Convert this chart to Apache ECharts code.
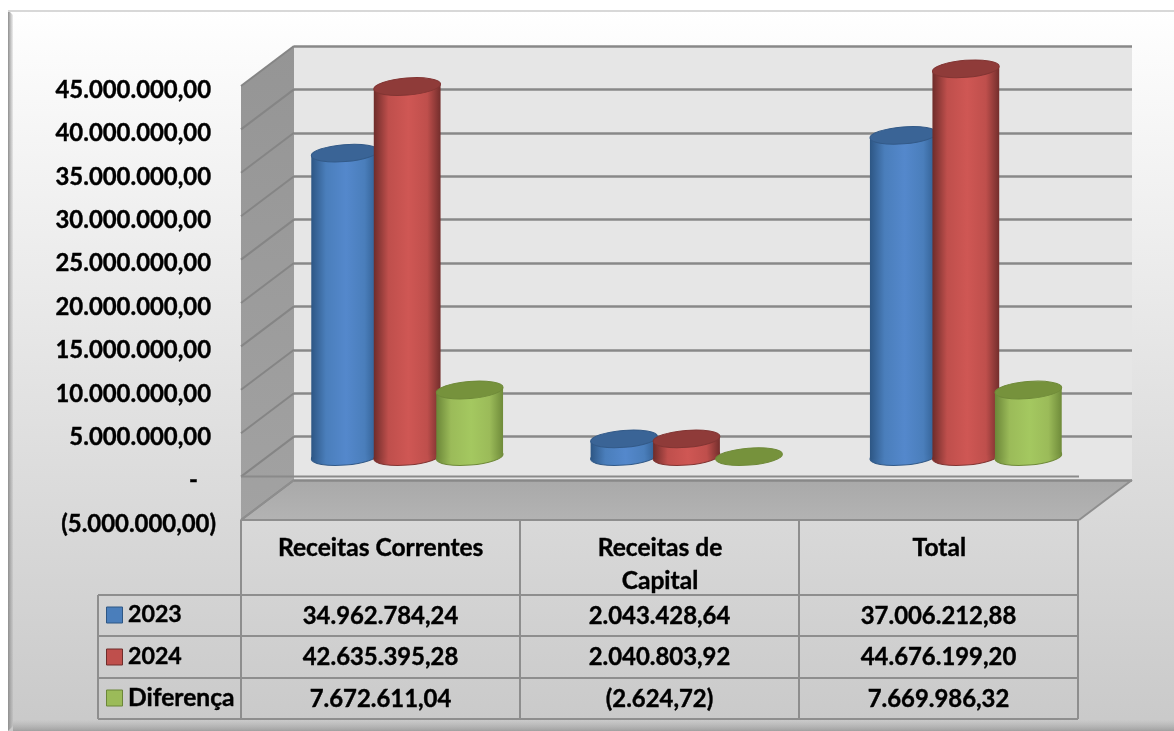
<html lang="pt">

<head>
	<meta charset="utf-8">
	<title>Receitas</title>
	<script src="https://cdn.jsdelivr.net/npm/echarts@6/dist/echarts.min.js"></script>
	<style>
		html, body { margin: 0; padding: 0; background: #fff; }
		#chart { width: 1174px; height: 731px; }
	</style>
</head>

<body>
	<div id="chart"></div>
	<script>
		// dados
		var categories = ['Receitas Correntes', 'Receitas de\nCapital', 'Total'];
		var seriesNames = ['2023', '2024', 'Diferença'];
		var values2023 = [34962784.24, 2043428.64, 37006212.88];
		var values2024 = [42635395.28, 2040803.92, 44676199.20];
		var valuesDiff = [7672611.04, -2624.72, 7669986.32];
		var yTicks = [-5000000, 0, 5000000, 10000000, 15000000, 20000000, 25000000, 30000000, 35000000, 40000000, 45000000];

		var FONT = 'Lato';
		var NUM_SIZE = 23.9, LABEL_SIZE = 24.6, THICK = 0.4;
		var depthX = 53, depthY = 40;   // deslocamento frente/fundo do 3D
		var backLeft = 294, backTop = 46, plotW = 838, plotH = 434;
		var barStep = 62.5, radX = 33.5, radY = 8.5, tilt = 0.08;

		var palette = [
			{ edgeL: '#2d5684', mid: '#4a7ebb', light: '#5488cc', edgeR: '#2f5b8d', top: '#3a6496', rim: '#335a88' },
			{ edgeL: '#6e2c2a', mid: '#bf4f4c', light: '#cf5754', edgeR: '#732e2c', top: '#8f3b39', rim: '#823533' },
			{ edgeL: '#6b8638', mid: '#9bbb59', light: '#a4c860', edgeR: '#6f8b3a', top: '#76923c', rim: '#6f8a39' }
		];

		function fmtBR(v) {
			var s = Math.abs(v).toFixed(2).split('.');
			var t = s[0].replace(/\B(?=(\d{3})+$)/g, '.') + ',' + s[1];
			return v < 0 ? '(' + t + ')' : t;
		}

		function hGrad(stops) {
			return new echarts.graphic.LinearGradient(0, 0, 1, 0, stops);
		}
		function vGrad(stops) {
			return new echarts.graphic.LinearGradient(0, 0, 0, 1, stops);
		}

		// cilindro desenhado no meio da profundidade
		function cylinder(serieIdx) {
			return function (params, api) {
				var c = palette[serieIdx];
				var topPt = api.coord([api.value(0), api.value(1)]);
				var basePt = api.coord([api.value(0), 0]);
				var cx = topPt[0] - depthX / 2 + (serieIdx - 1) * barStep;
				var yTop = topPt[1] + depthY / 2;
				var yBase = basePt[1] + depthY / 2;
				var dx = radX * Math.cos(tilt), dy = radX * Math.sin(tilt);
				var fill = hGrad([
					{ offset: 0, color: c.edgeL }, { offset: 0.22, color: c.mid },
					{ offset: 0.52, color: c.light }, { offset: 0.8, color: c.mid },
					{ offset: 1, color: c.edgeR }
				]);
				var kids = [];
				if (Math.abs(yBase - yTop) > 1.5) {
					kids.push({
						type: 'ellipse', x: cx, y: yBase, rotation: tilt,
						shape: { cx: 0, cy: 0, rx: radX, ry: radY },
						style: { fill: fill, stroke: c.rim, lineWidth: 1 }
					});
					kids.push({
						type: 'polygon',
						shape: { points: [[cx - dx, yTop + dy], [cx + dx, yTop - dy], [cx + dx, yBase - dy], [cx - dx, yBase + dy]] },
						style: { fill: fill }
					});
				}
				kids.push({
					type: 'ellipse', x: cx, y: yTop, rotation: tilt,
					shape: { cx: 0, cy: 0, rx: radX, ry: radY },
					style: { fill: c.top, stroke: c.rim, lineWidth: 1 }
				});
				return { type: 'group', children: kids };
			};
		}

		// linhas da parede lateral e linha do zero na frente
		function sideLines(params, api) {
			var v = api.value(0);
			var p = api.coord([0, v]);
			var left = params.coordSys.x;
			var kids = [{
				type: 'line',
				shape: { x1: left - depthX, y1: p[1] + depthY, x2: left, y2: p[1] },
				style: { stroke: '#858585', lineWidth: 2 }
			}];
			if (v === 0) {
				kids.push({
					type: 'line',
					shape: { x1: left - depthX, y1: p[1] + depthY, x2: left - depthX + plotW, y2: p[1] + depthY },
					style: { stroke: '#8a8a8a', lineWidth: 2 }
				});
			}
			return { type: 'group', children: kids };
		}

		// fundo, paredes e tabela
		var frontL = backLeft - depthX, frontB = backTop + plotH + depthY;
		var tableCols = [frontL, frontL + 279, frontL + 558, frontL + 837];
		var tableRows = [595, 636, 678, 719];
		var legendLeft = 98;
		var lineColor = '#8e8e8e';

		function tline(x1, y1, x2, y2) {
			return { type: 'line', z: 5, shape: { x1: x1, y1: y1, x2: x2, y2: y2 }, style: { stroke: lineColor, lineWidth: 2 } };
		}
		function ttext(txt, x, y, align, size) {
			return {
				type: 'text', z: 6, x: x, y: y,
				style: {
					text: txt, fill: '#000', font: 'bold ' + (size || NUM_SIZE) + 'px ' + FONT, align: align || 'center', verticalAlign: 'middle',
					stroke: '#000', lineWidth: THICK
				}
			};
		}

		var graphics = [
			{
				type: 'rect', z: -20, shape: { x: 8, y: 10, width: 1166, height: 721 },
				style: { fill: vGrad([{ offset: 0, color: '#ffffff' }, { offset: 0.05, color: '#fcfcfc' }, { offset: 1, color: '#c9c9c9' }]) }
			},
			{
				type: 'polygon', z: -19, shape: { points: [[8, 10], [13, 15], [13, 726], [8, 731]] },
				style: { fill: hGrad([{ offset: 0, color: '#8f8f8f' }, { offset: 1, color: 'rgba(150,150,150,0.15)' }]) }
			},
			{
				type: 'rect', z: -19, shape: { x: 13, y: 720, width: 1161, height: 11 },
				style: { fill: vGrad([{ offset: 0, color: 'rgba(150,150,150,0)' }, { offset: 1, color: 'rgba(120,120,120,0.5)' }]) }
			},
			{ type: 'rect', z: -19, shape: { x: 8, y: 10, width: 1166, height: 2 }, style: { fill: '#d8d8d8' } },
			// parede lateral
			{
				type: 'polygon', z: -10,
				shape: { points: [[frontL, backTop + depthY], [backLeft, backTop], [backLeft, backTop + plotH], [frontL, frontB]] },
				style: { fill: vGrad([{ offset: 0, color: '#959595' }, { offset: 1, color: '#a2a2a2' }]) }
			},
			// piso
			{
				type: 'polygon', z: -10,
				shape: { points: [[frontL, frontB], [backLeft, backTop + plotH], [backLeft + plotW, backTop + plotH], [frontL + plotW, frontB]] },
				style: { fill: vGrad([{ offset: 0, color: '#a9a9a9' }, { offset: 1, color: '#b3b3b3' }]) }
			},
			tline(frontL, frontB, frontL + plotW, frontB),
			tline(frontL, frontB, backLeft, backTop + plotH),
			tline(backLeft + plotW, backTop + plotH, frontL + plotW, frontB)
		];

		tableCols.forEach(function (x) { graphics.push(tline(x, frontB, x, tableRows[3])); });
		graphics.push(tline(legendLeft, tableRows[0], legendLeft, tableRows[3]));
		tableRows.forEach(function (y) { graphics.push(tline(legendLeft, y, tableCols[3], y)); });

		var rowCenters = [616, 657, 699];
		var rowKeys = [615, 657, 698];
		var legendSizes = [23.2, 23.2, LABEL_SIZE];
		[values2023, values2024, valuesDiff].forEach(function (vals, r) {
			var c = palette[r];
			graphics.push({
				type: 'rect', z: 6, shape: { x: 106.5, y: rowKeys[r] - 8, width: 16, height: 16 },
				style: { fill: c.mid, stroke: c.edgeL, lineWidth: 1 }
			});
			graphics.push(ttext(seriesNames[r], 128, rowKeys[r], 'left', legendSizes[r]));
			vals.forEach(function (v, i) {
				graphics.push(ttext(fmtBR(v), (tableCols[i] + tableCols[i + 1]) / 2, rowCenters[r]));
			});
		});

		function labelStyle(size, pad) {
			return {
				color: '#000', fontFamily: FONT, fontWeight: 'bold', fontSize: size,
				textBorderColor: '#000', textBorderWidth: THICK, padding: pad
			};
		}

		var chart = echarts.init(document.getElementById('chart'), null, { renderer: 'canvas' });
		chart.setOption({
			animation: false,
			backgroundColor: '#ffffff',
			grid: [
				// parede de fundo
				{ show: true, left: backLeft, top: backTop, width: plotW, height: plotH, backgroundColor: '#e6e6e6', borderWidth: 0 },
				// plano da frente, usado para os rotulos
				{ left: frontL, top: backTop + depthY + 4, width: plotW, height: plotH }
			],
			xAxis: [
				{ type: 'category', gridIndex: 0, data: categories, show: false },
				{
					type: 'category', gridIndex: 1, data: categories,
					axisLine: { show: false, onZero: false }, axisTick: { show: false },
					axisLabel: {
						margin: 8, lineHeight: 33, color: '#000', fontFamily: FONT, fontWeight: 'bold', fontSize: LABEL_SIZE,
						textBorderColor: '#000', textBorderWidth: THICK, interval: 0
					}
				}
			],
			yAxis: [
				{
					type: 'value', gridIndex: 0, min: -5000000, max: 45000000, interval: 5000000,
					axisLabel: { show: false }, axisLine: { show: false }, axisTick: { show: false },
					splitLine: { show: true, lineStyle: { color: '#888888', width: 2.5 } }
				},
				{
					type: 'value', gridIndex: 1, min: -5000000, max: 45000000, interval: 5000000,
					axisLine: { show: false }, axisTick: { show: false }, splitLine: { show: false },
					axisLabel: {
						margin: 25, align: 'right',
						formatter: function (v) {
							if (v === 0) return '{z|-}';
							return v < 0 ? '{n|' + fmtBR(v) + '}' : '{p|' + fmtBR(v) + '}';
						},
						rich: {
							p: labelStyle(NUM_SIZE, [0, 5, 0, 0]),
							n: labelStyle(NUM_SIZE, [0, 0, 0, 0]),
							z: labelStyle(NUM_SIZE, [0, 18, 0, 0])
						}
					}
				}
			],
			graphic: graphics,
			series: [
				{ type: 'custom', xAxisIndex: 0, yAxisIndex: 0, z: 1, silent: true, clip: false, data: yTicks.map(function (t) { return [t]; }), encode: { y: 0 }, renderItem: sideLines },
				{ type: 'custom', name: seriesNames[0], xAxisIndex: 0, yAxisIndex: 0, z: 2, clip: false, data: values2023.map(function (v, i) { return [i, v]; }), renderItem: cylinder(0) },
				{ type: 'custom', name: seriesNames[1], xAxisIndex: 0, yAxisIndex: 0, z: 3, clip: false, data: values2024.map(function (v, i) { return [i, v]; }), renderItem: cylinder(1) },
				{ type: 'custom', name: seriesNames[2], xAxisIndex: 0, yAxisIndex: 0, z: 4, clip: false, data: valuesDiff.map(function (v, i) { return [i, v]; }), renderItem: cylinder(2) }
			]
		});
	</script>
</body>

</html>
